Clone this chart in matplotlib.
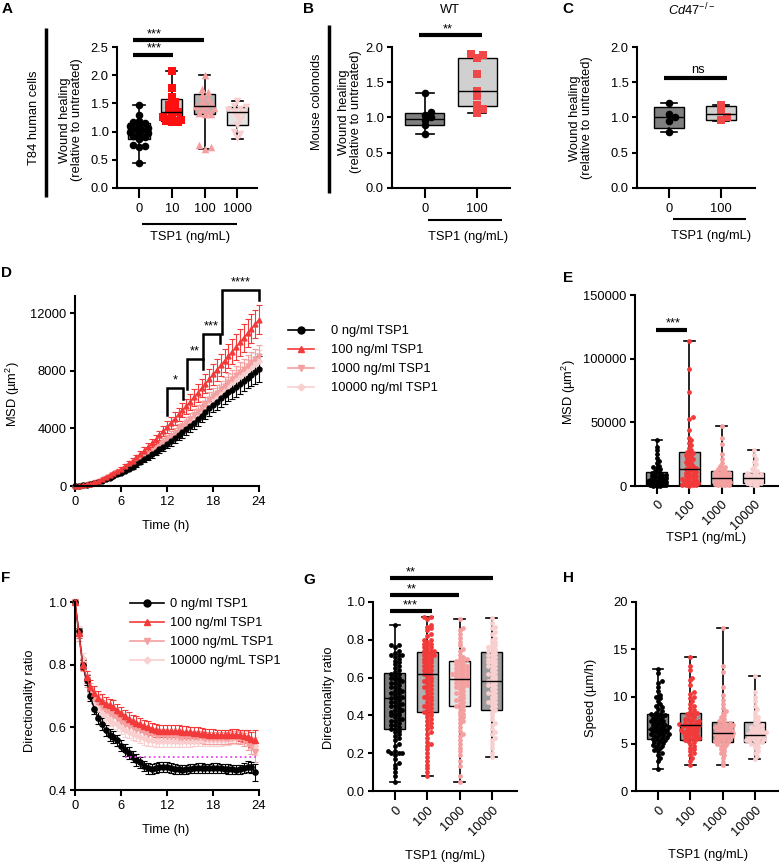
import numpy as np
import matplotlib
matplotlib.use('Agg')
import matplotlib.pyplot as plt
from matplotlib.lines import Line2D
import matplotlib.transforms as mtransforms

W, H = 779, 863
plt.rcParams.update({
    'font.family': ['Liberation Sans', 'DejaVu Sans'],
    'font.size': 9.3,
    'axes.linewidth': 1.5,
    'xtick.major.width': 1.5, 'ytick.major.width': 1.5,
    'xtick.major.size': 6, 'ytick.major.size': 3.5,
    'xtick.major.pad': 3, 'ytick.major.pad': 2.5,
    'mathtext.fontset': 'custom',
    'mathtext.rm': 'Liberation Sans',
    'mathtext.it': 'Liberation Sans:italic',
})

BLACK = '#000000'
RED = '#f23a3a'
SALMON = '#f5a0a0'
PINK = '#f9cfcf'

# ---------------- data ----------------
# panel A: T84 wound healing
A_groups = ['0', '10', '100', '1000']
A_pts = [
    [1.47, 1.29, 1.19, 1.17, 1.15, 1.12, 1.10, 1.07, 1.05, 1.03, 1.00, 0.98, 0.95, 0.92, 0.90, 0.87, 0.76, 0.75, 0.73, 0.44],
    [2.08, 1.77, 1.62, 1.52, 1.48, 1.42, 1.38, 1.35, 1.30, 1.25, 1.22, 1.20, 1.19, 1.18, 1.17, 1.17],
    [2.01, 1.75, 1.70, 1.65, 1.60, 1.55, 1.50, 1.47, 1.45, 1.42, 1.40, 1.37, 1.33, 1.32, 1.31, 0.76, 0.72, 0.70],
    [1.55, 1.45, 1.43, 1.40, 1.38, 1.35, 1.32, 1.28, 1.20, 1.12, 1.00, 0.95, 0.88],
]
A_lo = [0.44, 1.17, 0.70, 0.87]
A_q1 = [0.87, 1.19, 1.32, 1.12]
A_med = [1.02, 1.35, 1.45, 1.35]
A_q3 = [1.15, 1.57, 1.67, 1.43]
A_hi = [1.47, 2.08, 2.01, 1.55]

# panel B: WT colonoids
B_groups = ['0', '100']
B_pts = [
    [1.35, 1.08, 1.04, 1.00, 0.97, 0.90, 0.77],
    [1.90, 1.88, 1.85, 1.62, 1.38, 1.30, 1.18, 1.12, 1.07],
]
B_lo = [0.77, 1.07]
B_q1 = [0.89, 1.17]
B_med = [0.98, 1.38]
B_q3 = [1.07, 1.85]
B_hi = [1.35, 1.88]

# panel C: Cd47-/- colonoids
C_groups = ['0', '100']
C_pts = [
    [1.20, 1.05, 1.00, 0.95, 0.80],
    [1.18, 1.10, 1.00, 0.96],
]
C_lo = [0.80, 0.95]
C_q1 = [0.85, 0.97]
C_med = [1.00, 1.05]
C_q3 = [1.15, 1.16]
C_hi = [1.20, 1.18]

# panel D: MSD over time (h)
D_time = np.arange(0, 24.01, 0.5)
D_0 = [0, 15, 40, 75, 120, 190, 270, 360, 460, 570,
       690, 800, 900, 1050, 1200, 1350, 1500, 1670, 1850, 2020,
       2190, 2360, 2540, 2720, 2900, 3100, 3300, 3510, 3720, 3930,
       4150, 4390, 4640, 4890, 5140, 5390, 5650, 5870, 6090, 6310,
       6530, 6700, 6870, 7080, 7300, 7520, 7730, 7920, 8100]
D_100 = [0, 25, 60, 110, 170, 250, 350, 470, 600, 740,
         890, 1040, 1200, 1380, 1570, 1770, 1980, 2210, 2450, 2700,
         2960, 3230, 3510, 3800, 4100, 4390, 4680, 4970, 5260, 5550,
         5850, 6160, 6470, 6790, 7110, 7430, 7750, 8070, 8390, 8700,
         9020, 9330, 9650, 9970, 10290, 10610, 10930, 11250, 11550]
D_1000 = [0, 20, 45, 85, 140, 210, 300, 400, 510, 630,
          760, 880, 1000, 1160, 1330, 1500, 1680, 1860, 2050, 2240,
          2430, 2630, 2830, 3040, 3250, 3480, 3710, 3940, 4170, 4410,
          4650, 4910, 5170, 5440, 5710, 5980, 6250, 6490, 6730, 6970,
          7210, 7450, 7700, 7920, 8140, 8360, 8580, 8790, 9000]
D_10000 = [0, 20, 45, 85, 135, 205, 290, 390, 500, 615,
           740, 860, 980, 1130, 1290, 1460, 1640, 1820, 2000, 2180,
           2370, 2560, 2750, 2950, 3150, 3370, 3590, 3810, 4040, 4270,
           4500, 4750, 5000, 5260, 5520, 5790, 6050, 6280, 6510, 6750,
           6980, 7210, 7450, 7660, 7870, 8080, 8290, 8500, 8700]
D_0_err = [0, 2, 5, 9, 14, 20, 28, 37, 47, 58,
           70, 82, 95, 108, 122, 137, 152, 168, 185, 202,
           219, 236, 254, 272, 290, 308, 327, 346, 366, 386,
           406, 428, 450, 472, 494, 516, 540, 562, 584, 606,
           628, 650, 672, 694, 716, 740, 780, 830, 900]
D_100_err = [0, 3, 7, 12, 18, 26, 36, 47, 60, 74,
             89, 104, 120, 137, 155, 174, 194, 215, 237, 260,
             284, 308, 333, 358, 384, 410, 437, 464, 491, 518,
             546, 574, 602, 631, 660, 689, 718, 747, 776, 805,
             834, 863, 892, 921, 950, 970, 985, 995, 1000]
D_1000_err = [0, 2, 5, 9, 14, 21, 30, 40, 51, 63,
              76, 88, 100, 115, 131, 147, 163, 180, 197, 214,
              231, 248, 266, 284, 302, 321, 340, 359, 378, 397,
              416, 436, 456, 476, 496, 516, 536, 556, 576, 596,
              616, 636, 656, 676, 696, 716, 736, 756, 776]
D_10000_err = [0, 2, 5, 8, 13, 19, 27, 36, 46, 57,
               69, 80, 92, 106, 120, 135, 150, 166, 182, 198,
               214, 231, 248, 265, 282, 300, 318, 336, 354, 372,
               390, 409, 428, 447, 466, 485, 504, 523, 542, 561,
               580, 599, 618, 637, 656, 675, 694, 713, 732]

# panel E: MSD per cell
E_groups = ['0', '100', '1000', '10000']
E_pts = [
    [36000, 31000, 28000, 25000, 22000, 20000, 18000, 16000, 15000, 14000,
     13000, 12000, 11000, 10000, 9500, 9000, 8500, 8000, 7500, 7000,
     6500, 6000, 5500, 5000, 4800, 4500, 4200, 4000, 3800, 3500,
     3200, 3000, 2800, 2500, 2200, 2000, 1800, 1600, 1400, 1200,
     1000, 900, 800, 700, 600, 500, 400, 300, 200, 100],
    [114000, 92000, 74000, 54000, 53000, 44000, 38000, 36000, 34000, 32000,
     30000, 28000, 27000, 26000, 25000, 24000, 23000, 22000, 21000, 20000,
     19000, 18000, 17000, 16000, 15000, 14000, 13000, 12500, 12000, 11000,
     10000, 9500, 9000, 8000, 7500, 7000, 6000, 5500, 5000, 4500,
     4000, 3500, 3000, 2500, 2000, 1500, 1200, 1000, 800, 600, 400, 200],
    [47000, 38000, 33000, 25000, 21000, 18000, 16000, 15000, 14000, 13000,
     12000, 11500, 11000, 10500, 10000, 9500, 9000, 8500, 8000, 7500,
     7000, 6500, 6000, 5500, 5000, 4500, 4000, 3500, 3000, 2500,
     2000, 1500, 1200, 1000, 800, 600, 400],
    [28000, 24000, 21000, 19000, 17000, 15000, 13000, 12000, 11000, 10000,
     9500, 9000, 8500, 8000, 7500, 7000, 6500, 6000, 5500, 5000,
     4500, 4000, 3500, 3000, 2500, 2000, 1500, 1000, 500],
]
E_lo = [0, 0, 0, 0]
E_q1 = [500, 1500, 1500, 2000]
E_med = [3500, 13000, 6000, 6500]
E_q3 = [11000, 26500, 12000, 10000]
E_hi = [36000, 114000, 47000, 28000]

# panel F: directionality ratio over time (h)
F_time = np.arange(0, 23.51, 0.5)
F_0 = [1.0, 0.906, 0.80, 0.75, 0.70, 0.66, 0.63, 0.61, 0.59, 0.576,
       0.568, 0.558, 0.542, 0.528, 0.517, 0.506, 0.496, 0.488, 0.477, 0.469,
       0.468, 0.470, 0.472, 0.473, 0.472, 0.470, 0.468, 0.466, 0.465, 0.466,
       0.468, 0.469, 0.470, 0.470, 0.469, 0.469, 0.470, 0.470, 0.469, 0.468,
       0.467, 0.466, 0.465, 0.466, 0.470, 0.475, 0.472, 0.456]
F_100 = [1.0, 0.90, 0.80, 0.76, 0.73, 0.71, 0.695, 0.685, 0.675, 0.67,
         0.665, 0.655, 0.645, 0.635, 0.628, 0.62, 0.615, 0.61, 0.605, 0.60,
         0.595, 0.59, 0.589, 0.588, 0.588, 0.588, 0.587, 0.587, 0.586, 0.585,
         0.584, 0.583, 0.582, 0.580, 0.578, 0.577, 0.576, 0.575, 0.575, 0.575,
         0.575, 0.576, 0.576, 0.575, 0.573, 0.570, 0.562, 0.560]
F_1000 = [1.0, 0.89, 0.80, 0.75, 0.72, 0.695, 0.68, 0.665, 0.655, 0.645,
          0.64, 0.63, 0.62, 0.61, 0.605, 0.60, 0.595, 0.59, 0.585, 0.58,
          0.578, 0.576, 0.575, 0.574, 0.573, 0.572, 0.571, 0.570, 0.570, 0.569,
          0.569, 0.569, 0.568, 0.568, 0.567, 0.567, 0.567, 0.566, 0.566, 0.566,
          0.567, 0.568, 0.568, 0.566, 0.56, 0.55, 0.54, 0.52]
F_10000 = [1.0, 0.91, 0.82, 0.76, 0.71, 0.68, 0.66, 0.645, 0.635, 0.625,
           0.615, 0.61, 0.60, 0.59, 0.585, 0.58, 0.575, 0.57, 0.565, 0.56,
           0.558, 0.557, 0.557, 0.556, 0.556, 0.556, 0.555, 0.555, 0.555, 0.556,
           0.556, 0.557, 0.557, 0.558, 0.558, 0.559, 0.559, 0.56, 0.56, 0.561,
           0.562, 0.564, 0.566, 0.568, 0.57, 0.565, 0.56, 0.54]
F_0_err = [0, 0.012, 0.015, 0.016, 0.017, 0.018, 0.018, 0.019, 0.019, 0.019,
           0.019, 0.019, 0.019, 0.019, 0.019, 0.018, 0.018, 0.018, 0.017, 0.017,
           0.016, 0.016, 0.016, 0.016, 0.016, 0.016, 0.016, 0.015, 0.015, 0.015,
           0.015, 0.015, 0.015, 0.015, 0.015, 0.015, 0.015, 0.015, 0.015, 0.015,
           0.015, 0.015, 0.015, 0.015, 0.015, 0.016, 0.018, 0.026]
F_100_err = [0, 0.015, 0.018, 0.02, 0.021, 0.022, 0.022, 0.022, 0.022, 0.022,
             0.022, 0.021, 0.021, 0.021, 0.021, 0.02, 0.02, 0.02, 0.02, 0.02,
             0.02, 0.02, 0.019, 0.019, 0.019, 0.019, 0.019, 0.019, 0.019, 0.019,
             0.018, 0.018, 0.018, 0.018, 0.018, 0.018, 0.018, 0.018, 0.018, 0.018,
             0.018, 0.018, 0.018, 0.018, 0.019, 0.02, 0.024, 0.03]
F_1000_err = [0, 0.016, 0.019, 0.021, 0.022, 0.022, 0.023, 0.023, 0.023, 0.023,
              0.022, 0.022, 0.022, 0.022, 0.021, 0.021, 0.021, 0.021, 0.02, 0.02,
              0.02, 0.02, 0.02, 0.02, 0.02, 0.02, 0.02, 0.019, 0.019, 0.019,
              0.019, 0.019, 0.019, 0.019, 0.019, 0.019, 0.019, 0.019, 0.019, 0.019,
              0.019, 0.019, 0.019, 0.02, 0.021, 0.023, 0.026, 0.03]
F_10000_err = [0, 0.015, 0.018, 0.02, 0.021, 0.021, 0.022, 0.022, 0.022, 0.022,
               0.021, 0.021, 0.021, 0.021, 0.02, 0.02, 0.02, 0.02, 0.02, 0.019,
               0.019, 0.019, 0.019, 0.019, 0.019, 0.019, 0.019, 0.019, 0.018, 0.018,
               0.018, 0.018, 0.018, 0.018, 0.018, 0.018, 0.018, 0.018, 0.018, 0.018,
               0.018, 0.018, 0.019, 0.019, 0.02, 0.022, 0.025, 0.028]

# panel G: directionality ratio per cell
G_groups = ['0', '100', '1000', '10000']
G_pts = [
    [0.88, 0.77, 0.77, 0.76, 0.74, 0.73, 0.72, 0.72, 0.71, 0.70,
     0.69, 0.68, 0.67, 0.66, 0.65, 0.64, 0.63, 0.62, 0.61, 0.60,
     0.59, 0.58, 0.57, 0.56, 0.55, 0.54, 0.53, 0.52, 0.51, 0.50,
     0.50, 0.49, 0.48, 0.47, 0.46, 0.45, 0.44, 0.43, 0.42, 0.41,
     0.40, 0.39, 0.38, 0.37, 0.36, 0.35, 0.34, 0.33, 0.32, 0.31,
     0.30, 0.29, 0.28, 0.27, 0.25, 0.24, 0.21, 0.21, 0.20, 0.20,
     0.20, 0.19, 0.17, 0.15, 0.14, 0.12, 0.10, 0.08, 0.05, 0.62,
     0.58, 0.55, 0.52, 0.49, 0.47, 0.45, 0.43, 0.40, 0.37, 0.35,
     0.33, 0.60, 0.57, 0.53, 0.46, 0.42, 0.38, 0.72],
    [0.92, 0.92, 0.91, 0.88, 0.87, 0.86, 0.85, 0.83, 0.82, 0.80,
     0.79, 0.78, 0.77, 0.76, 0.75, 0.74, 0.74, 0.73, 0.72, 0.72,
     0.71, 0.70, 0.70, 0.69, 0.68, 0.67, 0.66, 0.65, 0.64, 0.63,
     0.62, 0.62, 0.61, 0.60, 0.59, 0.58, 0.57, 0.56, 0.55, 0.54,
     0.53, 0.52, 0.51, 0.50, 0.49, 0.48, 0.47, 0.46, 0.45, 0.44,
     0.43, 0.42, 0.42, 0.41, 0.40, 0.39, 0.38, 0.37, 0.36, 0.35,
     0.34, 0.33, 0.31, 0.30, 0.28, 0.26, 0.25, 0.24, 0.22, 0.20,
     0.18, 0.16, 0.14, 0.12, 0.10, 0.08, 0.78, 0.76, 0.72, 0.68,
     0.66, 0.64, 0.58, 0.55, 0.50, 0.45, 0.80, 0.74],
    [0.91, 0.86, 0.85, 0.83, 0.81, 0.79, 0.77, 0.75, 0.74, 0.72,
     0.71, 0.70, 0.69, 0.69, 0.68, 0.67, 0.66, 0.66, 0.65, 0.64,
     0.64, 0.63, 0.62, 0.62, 0.61, 0.60, 0.60, 0.59, 0.58, 0.58,
     0.57, 0.56, 0.56, 0.55, 0.54, 0.53, 0.52, 0.51, 0.50, 0.49,
     0.48, 0.47, 0.46, 0.45, 0.45, 0.44, 0.43, 0.42, 0.41, 0.40,
     0.39, 0.38, 0.37, 0.36, 0.34, 0.32, 0.30, 0.29, 0.27, 0.25,
     0.23, 0.21, 0.19, 0.16, 0.13, 0.08, 0.045, 0.70, 0.67, 0.63,
     0.61, 0.59, 0.57, 0.55, 0.52, 0.48, 0.65, 0.62],
    [0.915, 0.89, 0.87, 0.86, 0.84, 0.83, 0.81, 0.80, 0.79, 0.78,
     0.77, 0.76, 0.75, 0.74, 0.73, 0.72, 0.72, 0.71, 0.70, 0.69,
     0.68, 0.67, 0.66, 0.65, 0.64, 0.63, 0.62, 0.61, 0.60, 0.59,
     0.58, 0.58, 0.57, 0.56, 0.55, 0.54, 0.53, 0.52, 0.51, 0.50,
     0.49, 0.48, 0.47, 0.46, 0.45, 0.44, 0.43, 0.42, 0.40, 0.38,
     0.36, 0.35, 0.33, 0.31, 0.30, 0.28, 0.27, 0.25, 0.23, 0.20,
     0.18, 0.76, 0.74, 0.70, 0.66, 0.62, 0.56, 0.52, 0.47, 0.68],
]
G_lo = [0.05, 0.08, 0.045, 0.18]
G_q1 = [0.33, 0.42, 0.45, 0.43]
G_med = [0.49, 0.62, 0.59, 0.58]
G_q3 = [0.625, 0.735, 0.69, 0.735]
G_hi = [0.88, 0.92, 0.91, 0.915]

# panel H: speed per cell (um/h)
H_groups = ['0', '100', '1000', '10000']
H_pts = [
    [12.9, 12.5, 11.6, 11.4, 11.0, 10.6, 10.2, 10.0, 9.8, 9.5,
     9.2, 9.0, 8.9, 8.7, 8.5, 8.3, 8.2, 8.1, 8.0, 7.9,
     7.8, 7.7, 7.6, 7.5, 7.4, 7.3, 7.2, 7.1, 7.0, 6.9,
     6.8, 6.8, 6.7, 6.6, 6.5, 6.5, 6.4, 6.3, 6.2, 6.1,
     6.0, 6.0, 5.9, 5.8, 5.7, 5.6, 5.5, 5.4, 5.3, 5.2,
     5.1, 5.0, 4.9, 4.8, 4.7, 4.5, 4.3, 4.2, 4.0, 3.8,
     3.5, 3.2, 2.3, 7.0, 6.6, 6.2, 5.8, 5.5, 7.4, 8.0],
    [14.2, 13.2, 12.8, 12.0, 11.7, 11.2, 10.5, 10.3, 10.0, 9.8,
     9.5, 9.2, 9.0, 8.8, 8.6, 8.4, 8.3, 8.2, 8.0, 7.8,
     7.6, 7.5, 7.4, 7.3, 7.2, 7.1, 7.0, 7.0, 6.9, 6.8,
     6.7, 6.6, 6.5, 6.4, 6.3, 6.2, 6.1, 6.0, 5.9, 5.8,
     5.7, 5.6, 5.5, 5.4, 5.3, 5.2, 5.0, 4.8, 4.6, 4.4,
     4.2, 4.0, 3.8, 3.5, 3.2, 2.7, 7.2, 6.9, 6.5, 6.2,
     5.8, 7.6, 8.1, 5.5],
    [17.2, 13.2, 12.6, 11.0, 10.2, 9.6, 9.2, 8.8, 8.5, 8.3,
     8.0, 7.8, 7.6, 7.4, 7.3, 7.2, 7.1, 7.0, 6.9, 6.8,
     6.7, 6.6, 6.5, 6.4, 6.3, 6.2, 6.1, 6.0, 6.0, 5.9,
     5.8, 5.7, 5.6, 5.5, 5.4, 5.3, 5.2, 5.1, 5.0, 4.9,
     4.8, 4.6, 4.4, 4.2, 4.0, 3.8, 3.5, 3.1, 2.7, 6.5,
     6.2, 5.9, 5.6, 5.3, 6.8, 7.0],
    [12.2, 10.5, 10.0, 9.5, 9.0, 8.7, 8.4, 8.0, 7.8, 7.6,
     7.4, 7.2, 7.0, 6.9, 6.8, 6.7, 6.6, 6.5, 6.4, 6.3,
     6.2, 6.1, 6.0, 5.9, 5.8, 5.7, 5.6, 5.5, 5.4, 5.3,
     5.2, 5.1, 5.0, 4.9, 4.7, 4.5, 4.2, 4.0, 3.7, 3.4,
     6.2, 6.0, 5.8, 5.5, 5.3],
]
H_lo = [2.3, 2.7, 2.7, 3.4]
H_q1 = [5.5, 5.4, 5.2, 5.15]
H_med = [6.6, 7.0, 6.1, 5.9]
H_q3 = [8.2, 8.3, 7.3, 7.3]
H_hi = [12.9, 14.2, 17.2, 12.2]

# ---------------- helpers ----------------
fig = plt.figure(figsize=(W / 100, H / 100), dpi=100)


def add_ax(l, t, r, b):
    ax = fig.add_axes([l / W, 1 - b / H, (r - l) / W, (b - t) / H])
    ax.spines['top'].set_visible(False)
    ax.spines['right'].set_visible(False)
    return ax


def ftext(x, y, s, **kw):
    kw.setdefault('ha', 'center')
    kw.setdefault('va', 'center')
    fig.text(x / W, 1 - y / H, s, **kw)


def fline(xs, ys, lw=1.5):
    fig.add_artist(Line2D([x / W for x in xs], [1 - y / H for y in ys],
                          transform=fig.transFigure, color='k', lw=lw,
                          solid_capstyle='butt'))


def swarm(ax, xc, vals, d, maxw):
    T = ax.transData
    x0 = T.transform((xc, 0))[0]
    sx = T.transform((xc + 1, 0))[0] - x0
    ys = np.array([T.transform((xc, v))[1] for v in vals])
    cands = [0.0]
    k = 1
    while k * d * 0.5 <= maxw:
        cands += [k * d * 0.5, -k * d * 0.5]
        k += 1
    px, py = [], []
    out = np.zeros(len(vals))
    for i in np.argsort(ys):
        y = ys[i]
        best, bestd = 0.0, -1
        for c in cands:
            if px:
                dist = np.min((np.array(px) - c) ** 2 + (np.array(py) - y) ** 2)
            else:
                dist = 1e9
            if dist >= (0.8 * d) ** 2:
                best = c
                break
            if dist > bestd:
                best, bestd = c, dist
        px.append(best)
        py.append(y)
        out[i] = xc + best / sx
    return out


def box_panel(ax, pts, lo, q1, med, q3, hi, faces, colors, markers, width,
              s, d, maxw, capw):
    pos = np.arange(len(pts))
    stats = [dict(whislo=lo[i], q1=q1[i], med=med[i], q3=q3[i], whishi=hi[i])
             for i in range(len(pts))]
    bp = ax.bxp(stats, positions=pos, widths=width, patch_artist=True,
                showfliers=False, capwidths=capw,
                boxprops=dict(edgecolor='k', linewidth=1.0),
                whiskerprops=dict(color='k', linewidth=1.2),
                capprops=dict(color='k', linewidth=1.2),
                medianprops=dict(color='k', linewidth=1.0, zorder=4),
                manage_ticks=False)
    for b, f in zip(bp['boxes'], faces):
        b.set_facecolor(f)
    for i, vals in enumerate(pts):
        xs = swarm(ax, pos[i], vals, d, maxw)
        ax.scatter(xs, vals, s=s, color=colors[i], marker=markers[i],
                   linewidths=0, zorder=3, clip_on=False)


def sig(ax, x1, x2, y, txt, tx, lw=2.5, dy=0.0):
    ax.plot([x1, x2], [y, y], color='k', lw=lw, clip_on=False,
            solid_capstyle='butt')
    ax.text(tx, y + dy, txt, ha='center', va='bottom', fontsize=9.3,
            clip_on=False)


def rot_labels(ax, labels):
    ax.set_xticks(range(len(labels)))
    ax.set_xticklabels(labels, rotation=45, ha='right', va='top',
                       rotation_mode='anchor')
    off = mtransforms.ScaledTranslation(4 / 72, 0, fig.dpi_scale_trans)
    for lab in ax.get_xticklabels():
        lab.set_transform(lab.get_transform() + off)


# ---------------- panel A ----------------
axA = add_ax(117, 47, 257, 188)
axA.set_xlim(-0.67, 3.6)
axA.set_ylim(0, 2.5)
axA.set_yticks([0, 0.5, 1.0, 1.5, 2.0, 2.5])
axA.set_yticklabels(['0.0', '0.5', '1.0', '1.5', '2.0', '2.5'])
axA.set_xticks(range(4))
axA.set_xticklabels(A_groups)
axA.tick_params(axis='x', length=7, pad=4)
box_panel(axA, A_pts, A_lo, A_q1, A_med, A_q3, A_hi,
          ['#7f7f7f', '#c8c8c8', '#b4b4b4', '#e4e4e4'],
          [BLACK, '#ff1010', SALMON, PINK], ['o', 's', '^', 'v'],
          0.65, 30, 6, 10, 0.35)
sig(axA, -0.18, 1.99, 2.62, '***', 0.46, lw=3)
sig(axA, -0.18, 1.04, 2.36, '***', 0.46, lw=3)
ftext(71, 120, 'Wound healing\n(relative to untreated)', rotation=90, linespacing=0.95)
ftext(34, 118, 'T84 human cells', rotation=90)
fline([46, 46], [28, 197], lw=2.5)
fline([142, 237], [224, 224])
ftext(190, 237, 'TSP1 (ng/mL)')

# ---------------- panel B ----------------
axB = add_ax(392, 47, 510, 188)
axB.set_xlim(-0.63, 1.63)
axB.set_ylim(0, 2.0)
axB.set_yticks([0, 0.5, 1.0, 1.5, 2.0])
axB.set_yticklabels(['0.0', '0.5', '1.0', '1.5', '2.0'])
axB.set_xticks(range(2))
axB.set_xticklabels(B_groups)
axB.tick_params(axis='x', length=7, pad=4)
box_panel(axB, B_pts, B_lo, B_q1, B_med, B_q3, B_hi,
          ['#7f7f7f', '#d0d0d0'], [BLACK, '#f04848'], ['o', 's'],
          0.75, 30, 6, 14, 0.35)
sig(axB, -0.12, 1.1, 2.17, '**', 0.43, lw=3)
ftext(350, 112, 'Wound healing\n(relative to untreated)', rotation=90, linespacing=0.95)
ftext(317, 102, 'Mouse colonoids', rotation=90)
fline([329, 329], [25, 193], lw=2.5)
fline([428, 502], [220, 220])
ftext(468, 237, 'TSP1 (ng/mL)')
ftext(450, 10, 'WT')

# ---------------- panel C ----------------
axC = add_ax(637, 47, 755, 188)
axC.set_xlim(-0.62, 1.65)
axC.set_ylim(0, 2.0)
axC.set_yticks([0, 0.5, 1.0, 1.5, 2.0])
axC.set_yticklabels(['0.0', '0.5', '1.0', '1.5', '2.0'])
axC.set_xticks(range(2))
axC.set_xticklabels(C_groups)
axC.tick_params(axis='x', length=7, pad=4)
box_panel(axC, C_pts, C_lo, C_q1, C_med, C_q3, C_hi,
          ['#7f7f7f', '#d0d0d0'], [BLACK, '#f04848'], ['o', 's'],
          0.58, 30, 6, 10, 0.3)
sig(axC, -0.1, 1.12, 1.56, 'ns', 0.56, lw=3, dy=0.03)
ftext(581, 118, 'Wound healing\n(relative to untreated)', rotation=90, linespacing=0.95)
fline([673, 746], [219, 219])
ftext(711, 236, 'TSP1 (ng/mL)')
ftext(692, 10, r'$\mathit{Cd47}^{-/-}$')

# ---------------- panel D ----------------
axD = add_ax(75, 296, 259, 486)
axD.set_xlim(0, 24)
axD.set_ylim(0, 13200)
axD.set_xticks([0, 6, 12, 18, 24])
axD.set_yticks([0, 4000, 8000, 12000])
axD.tick_params(axis='x', length=4.5, pad=3)
D_series = [(D_10000, D_10000_err, PINK, 'D'), (D_1000, D_1000_err, SALMON, 'v'),
            (D_0, D_0_err, BLACK, 'o'), (D_100, D_100_err, RED, '^')]
for m, e, c, mk in D_series:
    axD.errorbar(D_time, m, yerr=e, color=c, marker=mk, ms=3.5 if mk != 'D' else 2.8,
                 lw=1.0, elinewidth=0.8, capsize=2, capthick=0.8, clip_on=False)
br = [((12.0, 4940), (12.0, 6820), (14.1, 6820), (14.1, 6050)),
      ((14.6, 6750), (14.6, 8830), (16.7, 8830), (16.7, 8140)),
      ((16.7, 8830), (16.7, 10570), (18.9, 10570), (18.9, 9950)),
      ((19.2, 10570), (19.2, 13630), (24.0, 13630), (24.0, 12900))]
for seg in br:
    axD.plot([p[0] for p in seg], [p[1] for p in seg], color='k', lw=1.8,
             clip_on=False, solid_joinstyle='miter')
for tx, ty, s in [(13.05, 6900, '*'), (15.65, 8900, '**'), (17.8, 10640, '***'),
                  (21.6, 13700, '****')]:
    axD.text(tx, ty, s, ha='center', va='bottom', fontsize=9.3, clip_on=False)
ftext(13, 394, r'MSD (µm$^2$)', rotation=90)
ftext(166, 526, 'Time (h)')
hD = [Line2D([0], [0], color=BLACK, marker='o', ms=5, lw=1.2),
      Line2D([0], [0], color=RED, marker='^', ms=5, lw=1.2),
      Line2D([0], [0], color=SALMON, marker='v', ms=5, lw=1.2),
      Line2D([0], [0], color=PINK, marker='D', ms=3.5, lw=1.2)]
fig.legend(hD, ['0 ng/ml TSP1', '100 ng/ml TSP1', '1000 ng/ml TSP1', '10000 ng/ml TSP1'],
           loc='upper left', bbox_to_anchor=(288 / W, 1 - 325 / H), frameon=False,
           handlelength=2.0, handletextpad=1.3, labelspacing=0.55, borderpad=0,
           borderaxespad=0, fontsize=9.3)

# ---------------- panel E ----------------
axE = add_ax(635, 295, 778, 486)
axE.set_xlim(-0.68, 3.75)
axE.set_ylim(0, 150000)
axE.set_yticks([0, 50000, 100000, 150000])
axE.set_yticklabels(['0', '50000', '100000', '150000'])
rot_labels(axE, E_groups)
axE.tick_params(axis='x', length=6, pad=3)
box_panel(axE, E_pts, E_lo, E_q1, E_med, E_q3, E_hi,
          ['#888888', '#aaaaaa', '#bbbbbb', '#dddddd'],
          [BLACK, RED, SALMON, PINK], ['o', 'o', 'o', 'o'],
          0.65, 12, 3.5, 10, 0.33)
sig(axE, -0.03, 0.93, 122600, '***', 0.5, lw=3)
ftext(569, 392, r'MSD (µm$^2$)', rotation=90)
ftext(706, 538, 'TSP1 (ng/mL)')

# ---------------- panel F ----------------
axF = add_ax(75, 602, 259, 790)
axF.set_xlim(0, 24)
axF.set_ylim(0.4, 1.0)
axF.set_xticks([0, 6, 12, 18, 24])
axF.set_yticks([0.4, 0.6, 0.8, 1.0])
axF.set_yticklabels(['0.4', '0.6', '0.8', '1.0'])
axF.tick_params(axis='x', length=4.5, pad=3)
F_series = [(F_10000, F_10000_err, PINK, 'D'), (F_1000, F_1000_err, SALMON, 'v'),
            (F_0, F_0_err, BLACK, 'o'), (F_100, F_100_err, RED, '^')]
for m, e, c, mk in F_series:
    axF.errorbar(F_time, m, yerr=e, color=c, marker=mk, ms=3.8 if mk != 'D' else 3,
                 lw=1.0, elinewidth=0.8, capsize=2, capthick=0.8, clip_on=False)
axF.hlines(0.505, 6.5, 23.8, colors='#ee44ee', linestyles=':', lw=1.3, zorder=5)
ftext(30, 701, 'Directionality ratio', rotation=90)
ftext(166, 830, 'Time (h)')
hF = [Line2D([0], [0], color=BLACK, marker='o', ms=5, lw=1.2),
      Line2D([0], [0], color=RED, marker='^', ms=5, lw=1.2),
      Line2D([0], [0], color=SALMON, marker='v', ms=5, lw=1.2),
      Line2D([0], [0], color=PINK, marker='D', ms=3.5, lw=1.2)]
fig.legend(hF, ['0 ng/ml TSP1', '100 ng/ml TSP1', '1000 ng/mL TSP1', '10000 ng/mL TSP1'],
           loc='upper left', bbox_to_anchor=(130 / W, 1 - 598 / H), frameon=False,
           handlelength=2.6, handletextpad=0.5, labelspacing=0.55, borderpad=0,
           borderaxespad=0, fontsize=9.3)

# ---------------- panel G ----------------
axG = add_ax(373, 602, 517, 791)
axG.set_xlim(-0.68, 3.78)
axG.set_ylim(0, 1.0)
axG.set_yticks([0, 0.2, 0.4, 0.6, 0.8, 1.0])
axG.set_yticklabels(['0.0', '0.2', '0.4', '0.6', '0.8', '1.0'])
rot_labels(axG, G_groups)
axG.tick_params(axis='x', length=6.5, pad=3)
box_panel(axG, G_pts, G_lo, G_q1, G_med, G_q3, G_hi,
          ['#7a7a7a', '#b0b0b0', '#e6e6e6', '#9c9c9c'],
          [BLACK, RED, SALMON, PINK], ['o', 'o', 'o', 'o'],
          0.65, 12, 3.6, 11, 0.33)
sig(axG, -0.15, 1.15, 0.952, '***', 0.46, lw=3)
sig(axG, -0.15, 1.98, 1.037, '**', 0.53, lw=3)
sig(axG, -0.15, 3.03, 1.127, '**', 0.5, lw=3)
ftext(329, 698, 'Directionality ratio', rotation=90)
ftext(445, 856, 'TSP1 (ng/mL)')

# ---------------- panel H ----------------
axH = add_ax(636, 602, 779, 791)
axH.set_xlim(-0.68, 3.75)
axH.set_ylim(0, 20)
axH.set_yticks([0, 5, 10, 15, 20])
rot_labels(axH, H_groups)
axH.tick_params(axis='x', length=6.5, pad=3)
box_panel(axH, H_pts, H_lo, H_q1, H_med, H_q3, H_hi,
          ['#808080', '#999999', '#a0a0a0', '#bdbdbd'],
          [BLACK, RED, SALMON, PINK], ['o', 'o', 'o', 'o'],
          0.65, 12, 3.6, 11, 0.33)
ftext(591, 698, 'Speed (µm/h)', rotation=90)
ftext(708, 855, 'TSP1 (ng/mL)')

# panel letters
for x, y, s in [(7, 9, 'A'), (309, 9, 'B'), (568, 9, 'C'), (6, 273, 'D'),
                (568, 278, 'E'), (6, 578, 'F'), (309, 580, 'G'), (568, 578, 'H')]:
    ftext(x, y, s, fontsize=11, fontweight='bold')

fig.savefig('out.png', dpi=100)
